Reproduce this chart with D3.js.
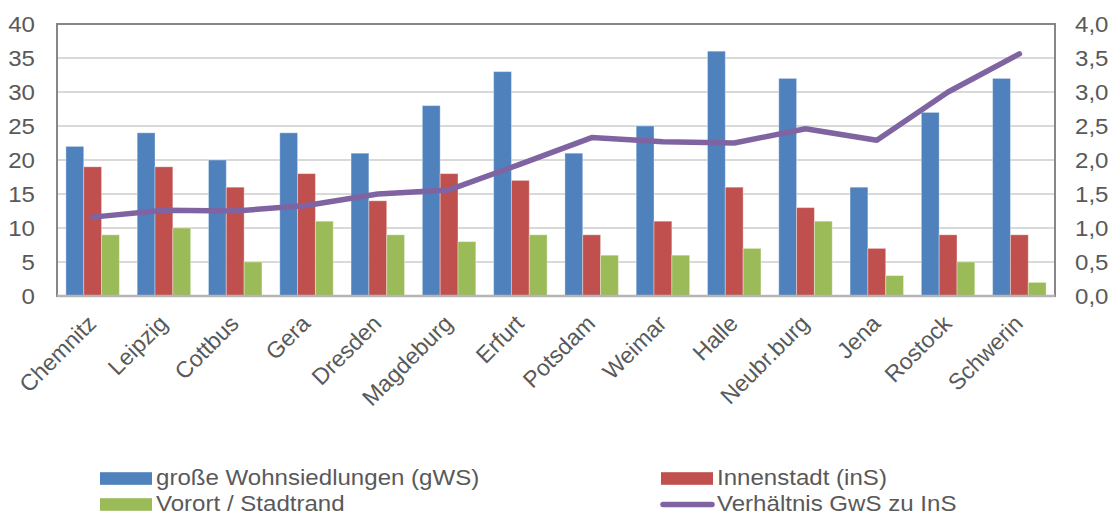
<!DOCTYPE html>
<html>
<head>
<meta charset="utf-8">
<script src="https://cdn.jsdelivr.net/npm/d3@7/dist/d3.min.js"></script>
<style>
  html, body { margin: 0; padding: 0; background: #fff; }
  svg { display: block; }
  text { font-family: "Liberation Sans", Arial, sans-serif; fill: #595959; }
</style>
</head>
<body>
<svg id="chart" width="1115" height="515"></svg>
<script>
// Städte (Kategorien)
const categories = ["Chemnitz", "Leipzig", "Cottbus", "Gera", "Dresden", "Magdeburg", "Erfurt",
  "Potsdam", "Weimar", "Halle", "Neubr.burg", "Jena", "Rostock", "Schwerin"];

// Balkenwerte (linke Achse)
const gWS    = [22, 24, 20, 24, 21, 28, 33, 21, 25, 36, 32, 16, 27, 32];
const inS    = [19, 19, 16, 18, 14, 18, 17,  9, 11, 16, 13,  7,  9,  9];
const vorort = [ 9, 10,  5, 11,  9,  8,  9,  6,  6,  7, 11,  3,  5,  2];

// Verhältnis GwS zu InS (rechte Achse)
const ratio  = [1.16, 1.26, 1.25, 1.33, 1.50, 1.56, 1.94, 2.33, 2.27, 2.25, 2.46, 2.29, 3.00, 3.56];

// Achsenbeschriftungen
const leftTicks  = [0, 5, 10, 15, 20, 25, 30, 35, 40];
const rightTicks = [0, 0.5, 1, 1.5, 2, 2.5, 3, 3.5, 4];

const seriesNames  = ["große Wohnsiedlungen (gWS)", "Innenstadt (inS)", "Vorort / Stadtrand", "Verhältnis GwS zu InS"];
const seriesColors = ["#4f81bd", "#c0504d", "#9bbb59", "#8064a2"];

const svg = d3.select("#chart");
const plot = { left: 57, right: 1055, top: 24, bottom: 296 };
const sx = 1.12;           // horizontal text stretch
const fs = 21.5;

const x = d3.scaleBand().domain(categories).range([plot.left, plot.right])
  .paddingInner(0.25).paddingOuter(0.125);
const xs = d3.scaleBand().domain([0, 1, 2]).range([0, x.bandwidth()]);
const yL = d3.scaleLinear().domain([0, 40]).range([plot.bottom, plot.top]);
const yR = d3.scaleLinear().domain([0, 4]).range([plot.bottom, plot.top]);

// Gitternetzlinien
svg.append("g").selectAll("line").data(leftTicks.slice(1, -1)).join("line")
  .attr("x1", plot.left).attr("x2", plot.right)
  .attr("y1", d => yL(d)).attr("y2", d => yL(d))
  .attr("stroke", "#d9d9d9").attr("stroke-width", 2);

// Balken
const seriesData = [gWS, inS, vorort];
const bars = svg.append("g");
seriesData.forEach((vals, si) => {
  bars.append("g").selectAll("rect").data(vals).join("rect")
    .attr("x", (d, i) => x(categories[i]) + xs(si))
    .attr("y", d => yL(d))
    .attr("width", xs.bandwidth())
    .attr("height", d => yL(0) - yL(d))
    .attr("fill", seriesColors[si])
    .attr("stroke", "rgba(255,255,255,0.35)")
    .attr("stroke-width", 1);
});

// Rahmen der Zeichenfläche
svg.append("rect")
  .attr("x", plot.left).attr("y", plot.top)
  .attr("width", plot.right - plot.left).attr("height", plot.bottom - plot.top)
  .attr("fill", "none").attr("stroke", "#878787").attr("stroke-width", 2);
svg.append("line")
  .attr("x1", plot.left).attr("x2", plot.right)
  .attr("y1", plot.bottom).attr("y2", plot.bottom)
  .attr("stroke", "#b5b5b5").attr("stroke-width", 2.5);

// Linie Verhältnis
const line = d3.line()
  .x((d, i) => x(categories[i]) + x.bandwidth() / 2)
  .y(d => yR(d));
svg.append("path").datum(ratio)
  .attr("d", line)
  .attr("fill", "none")
  .attr("stroke", seriesColors[3])
  .attr("stroke-width", 5.5)
  .attr("stroke-linecap", "round")
  .attr("stroke-linejoin", "round");

// Linke Achse
const axL = svg.append("g").attr("transform", `translate(${plot.left},0)`)
  .call(d3.axisLeft(yL).tickValues(leftTicks).tickSize(0).tickPadding(0).tickFormat(d3.format("d")));
axL.select(".domain").remove();
axL.selectAll("text")
  .attr("x", null).attr("dy", "0.35em")
  .attr("transform", `translate(-22,0) scale(${sx},1)`)
  .style("font-size", fs + "px").attr("fill", "#595959");

// Rechte Achse
const axR = svg.append("g").attr("transform", `translate(${plot.right},0)`)
  .call(d3.axisRight(yR).tickValues(rightTicks).tickSize(0).tickPadding(0)
    .tickFormat(d => d3.format(".1f")(d).replace(".", ",")));
axR.select(".domain").remove();
axR.selectAll("text")
  .attr("x", null).attr("dy", "0.35em")
  .attr("transform", `translate(20,0) scale(${sx},1)`)
  .style("font-size", fs + "px").attr("fill", "#595959");

// Kategorienbeschriftung (um 45° gedreht)
svg.append("g").selectAll("text").data(categories).join("text")
  .attr("transform", d => `translate(${x(d) + x.bandwidth() / 2 + 5},${plot.bottom + 29}) rotate(-45)`)
  .attr("text-anchor", "end")
  .style("font-size", "23px")
  .text(d => d);

// Legende
const legendItems = [
  { name: seriesNames[0], color: seriesColors[0], type: "rect", x: 100, y: 478.5 },
  { name: seriesNames[1], color: seriesColors[1], type: "rect", x: 661, y: 478.5 },
  { name: seriesNames[2], color: seriesColors[2], type: "rect", x: 100, y: 504.5 },
  { name: seriesNames[3], color: seriesColors[3], type: "line", x: 661, y: 504.5 }
];
const lg = svg.append("g").selectAll("g").data(legendItems).join("g")
  .attr("transform", d => `translate(${d.x},${d.y})`);
lg.filter(d => d.type === "rect").append("rect")
  .attr("x", 0).attr("y", -6.3).attr("width", 52).attr("height", 12.6)
  .attr("fill", d => d.color);
lg.filter(d => d.type === "line").append("line")
  .attr("x1", 2).attr("x2", 51).attr("y1", 0).attr("y2", 0)
  .attr("stroke", d => d.color).attr("stroke-width", 5.5).attr("stroke-linecap", "round");
lg.append("text")
  .attr("transform", `translate(56,6) scale(${sx},1)`)
  .style("font-size", fs + "px")
  .text(d => d.name);
</script>
</body>
</html>
